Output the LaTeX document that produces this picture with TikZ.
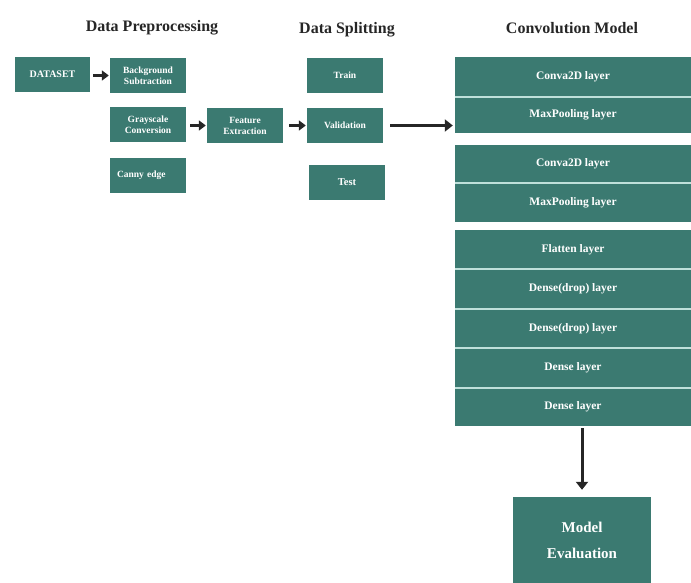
\documentclass[tikz,border=0pt]{standalone}
\usepackage{fontspec}
\setmainfont{Liberation Serif}
\usetikzlibrary{arrows.meta}
\definecolor{teal1}{HTML}{3B7A71}
\definecolor{divline}{HTML}{BFE0DA}
\tikzset{
  box/.style={fill=teal1, text=white, inner sep=0pt, font=\bfseries\fontsize{9.5}{11}\selectfont, align=center},
  layer/.style={fill=teal1, text=white, inner sep=0pt, minimum width=236pt, font=\bfseries\fontsize{11.5}{13}\selectfont},
  title/.style={font=\bfseries\fontsize{16}{18}\selectfont, text=black!85},
  sarrow/.style={line width=2.6pt, -{Triangle[length=7pt,width=10pt]}, black!85},
  barrow/.style={line width=3pt, -{Triangle[length=8pt,width=12pt]}, black!85},
  divider/.style={divline, line width=1.6pt}
}
\begin{document}
\begin{tikzpicture}[x=1pt,y=-1pt]
\useasboundingbox (0,0) rectangle (691,583);
% titles
\node[title] (t1) at (152,28) {Data Preprocessing};
\node[title] (t2) at (347,30) {Data Splitting};
\node[title] (t3) at (572,28) {Convolution Model};
% preprocessing
\node[box, minimum width=75pt, minimum height=35pt, font=\bfseries\fontsize{10}{11}\selectfont] (ds) at (52.5,74.5) {DATASET};
\node[box, minimum width=76pt, minimum height=35pt] (bg) at (148,75.5) {Background\\Subtraction};
\node[box, minimum width=76pt, minimum height=35pt] (gc) at (148,124.5) {Grayscale\\Conversion};
\node[box, minimum width=76pt, minimum height=35pt, align=left, text width=62pt] (ce) at (148,175.5) {Canny edge};
\node[box, minimum width=76pt, minimum height=35pt] (fe) at (245,125.5) {Feature\\Extraction};
% splitting
\node[box, minimum width=76pt, minimum height=35pt] (tr) at (345,75.5) {Train};
\node[box, minimum width=76pt, minimum height=35pt] (va) at (345,125.5) {Validation};
\node[box, minimum width=76pt, minimum height=35pt, font=\bfseries\fontsize{10.5}{11}\selectfont] (te) at (347,182.5) {Test};
% conv model
\node[layer, minimum height=40pt] (c1) at (573,77) {Conva2D layer};
\node[layer, minimum height=36pt] (m1) at (573,115) {MaxPooling layer};
\node[layer, minimum height=38pt] (c2) at (573,164) {Conva2D layer};
\node[layer, minimum height=39pt] (m2) at (573,202.5) {MaxPooling layer};
\node[layer, minimum height=39pt] (fl) at (573,249.5) {Flatten layer};
\node[layer, minimum height=40pt] (d1) at (573,289) {Dense(drop) layer};
\node[layer, minimum height=39pt] (d2) at (573,328.5) {Dense(drop) layer};
\node[layer, minimum height=40pt] (d3) at (573,368) {Dense layer};
\node[layer, minimum height=38pt] (d4) at (573,407) {Dense layer};
\node[box, minimum width=138pt, minimum height=86pt, font=\bfseries\fontsize{15}{26}\selectfont] (me) at (582,540) {Model\\Evaluation};
% dividers
\draw[divider] (c1.south west) -- (c1.south east);
\draw[divider] (c2.south west) -- (c2.south east);
\draw[divider] (fl.south west) -- (fl.south east);
\draw[divider] (d1.south west) -- (d1.south east);
\draw[divider] (d2.south west) -- (d2.south east);
\draw[divider] (d3.south west) -- (d3.south east);
% arrows
\draw[sarrow] ([xshift=3pt]ds.east |- bg) -- ([xshift=-1pt]bg.west);
\draw[sarrow] ([xshift=4pt]gc.east |- fe) -- ([xshift=-1pt]fe.west);
\draw[sarrow] ([xshift=6pt]fe.east) -- ([xshift=-1pt]va.west |- fe);
\draw[barrow] ([xshift=7pt]va.east) -- ([xshift=-2pt]va.east -| m1.west);
\draw[barrow] ([yshift=-2pt]me.north |- d4.south) -- ([yshift=7pt]me.north);
\end{tikzpicture}
\end{document}
